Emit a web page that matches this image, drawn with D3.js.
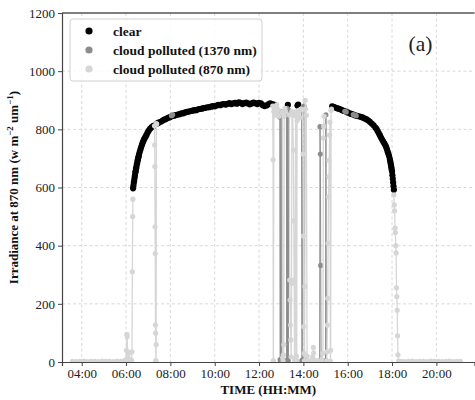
<!DOCTYPE html>
<html>
<head>
<meta charset="utf-8">
<script src="https://cdn.jsdelivr.net/npm/d3@7/dist/d3.min.js"></script>
<style>
  body { margin: 0; background: #fff; }
  svg { display: block; font-family: 'Liberation Serif', 'Times New Roman', serif; }
</style>
</head>
<body>
<svg id="chart" width="475" height="400"></svg>
<script>
// [time HH:MM(:SS), irradiance]
var clearPoints = [
  ['06:19', 597], ['06:20', 606], ['06:21', 616], ['06:22', 623], ['06:23', 633], ['06:24', 641],
  ['06:25', 651], ['06:26', 656], ['06:27', 665], ['06:28', 670], ['06:29', 679], ['06:30', 683],
  ['06:31', 691], ['06:32', 695], ['06:33', 702], ['06:34', 706], ['06:35', 713], ['06:37', 722],
  ['06:39', 731], ['06:41', 739], ['06:43', 747], ['06:45', 754], ['06:47', 760], ['06:49', 766],
  ['06:52', 773], ['06:55', 780], ['06:58', 788], ['07:01', 795], ['07:05', 802], ['07:09', 807],
  ['07:13', 811], ['07:16', 813], ['07:24', 820], ['07:27', 822], ['07:30', 824], ['07:35', 827],
  ['07:40', 831], ['07:45', 834], ['07:50', 837], ['07:55', 840], ['08:00', 842], ['08:05', 846],
  ['08:10', 847], ['08:15', 849], ['08:20', 851], ['08:25', 852], ['08:30', 855], ['08:35', 855],
  ['08:40', 858], ['08:45', 860], ['08:50', 861], ['08:55', 863], ['09:00', 864], ['09:05', 866],
  ['09:10', 866], ['09:15', 869], ['09:20', 870], ['09:25', 871], ['09:30', 873], ['09:35', 874],
  ['09:40', 876], ['09:45', 876], ['09:50', 878], ['09:55', 880], ['10:00', 879], ['10:05', 882],
  ['10:10', 884], ['10:15', 883], ['10:20', 886], ['10:25', 887], ['10:30', 885], ['10:35', 888],
  ['10:40', 890], ['10:45', 887], ['10:50', 889], ['10:55', 891], ['11:00', 888], ['11:05', 893],
  ['11:10', 891], ['11:15', 887], ['11:20', 890], ['11:25', 892], ['11:30', 889], ['11:35', 886],
  ['11:40', 889], ['11:45', 892], ['11:50', 890], ['11:55', 887], ['12:00', 891], ['12:05', 889],
  ['12:10', 883], ['12:15', 880], ['12:20', 882], ['12:25', 886], ['12:30', 889], ['12:35', 887],
  ['12:40', 885], ['12:43', 883],
  ['13:18', 884], ['13:44', 882], ['13:46', 885],
  ['15:18', 879], ['15:21', 877], ['15:25', 876], ['15:30', 873], ['15:35', 871], ['15:40', 869],
  ['15:45', 866], ['15:50', 863], ['15:55', 861], ['16:00', 858], ['16:05', 855], ['16:10', 853],
  ['16:15', 851], ['16:20', 848], ['16:25', 846], ['16:30', 845], ['16:35', 843], ['16:40', 841],
  ['16:45', 838], ['16:50', 835], ['16:55', 831], ['17:00', 826], ['17:05', 820], ['17:10', 814],
  ['17:15', 806], ['17:18', 801], ['17:21', 794], ['17:24', 787], ['17:27', 780], ['17:30', 772],
  ['17:33', 765], ['17:36', 758], ['17:39', 752], ['17:42', 745], ['17:44', 739], ['17:46', 732],
  ['17:48', 724], ['17:50', 716], ['17:52', 708], ['17:54', 698], ['17:55', 691], ['17:56', 684],
  ['17:57', 677], ['17:58', 670], ['17:59', 662], ['18:00', 655], ['18:01', 642], ['18:02', 630],
  ['18:03', 617], ['18:04', 604], ['18:05', 592]
];

// null = gap in the connecting line
var cloud1370Points = [
  ['08:03', 847], ['08:06', 850],
  null,
  ['12:56', 842], ['12:57', 8], ['12:58', 3], ['12:59', 855], ['13:00', 4], ['13:01', 860],
  null,
  ['13:14', 868], ['13:15', 6], ['13:16', 872], ['13:17', 3], ['13:18', 858], ['13:19', 5],
  ['13:20', 866], ['13:21', 280],
  null,
  ['13:55', 870], ['13:56', 6], ['13:57', 3], ['13:58', 875], ['14:02', 880], ['14:03', 10],
  null,
  ['14:44', 5], ['14:45', 809], ['14:46', 715], ['14:47', 332], ['14:48', 4],
  null,
  ['15:00', 5], ['15:01', 850], ['15:02', 3],
  null,
  ['15:52', 862], ['15:56', 860],
  null,
  ['16:15', 851], ['16:19', 849], ['16:23', 847]
];

var cloud870Points = [
  ['03:35', 2], ['03:45', 1], ['03:55', 2], ['04:05', 3], ['04:15', 1], ['04:25', 2], ['04:35', 2],
  ['04:45', 1], ['04:55', 3], ['05:05', 2], ['05:15', 2], ['05:25', 1], ['05:35', 3], ['05:45', 2],
  ['05:55', 4], ['06:00', 8], ['06:01', 40], ['06:02', 95], ['06:03', 88], ['06:04', 35],
  ['06:05', 15], ['06:07', 30], ['06:09', 10], ['06:11', 5], ['06:13', 4], ['06:15', 6],
  ['06:16', 35], ['06:17', 310], ['06:18', 500], ['06:18:30', 560],
  null,
  ['07:17', 812], ['07:17:30', 746], ['07:18', 672], ['07:18:30', 465], ['07:19', 373],
  ['07:19:30', 127], ['07:20', 99], ['07:20:30', 5], ['07:21', 3], ['07:21:30', 60],
  ['07:22', 820], ['07:23', 818],
  null,
  ['12:37', 880], ['12:38', 695], ['12:38:30', 4], ['12:39', 3], ['12:40', 862], ['12:42', 878],
  ['12:44', 848], ['12:46', 872], ['12:48', 884], ['12:50', 852], ['12:52', 868], ['12:54', 845],
  null,
  ['13:03', 858], ['13:04', 15], ['13:05', 4], ['13:06', 25], ['13:07', 60], ['13:08', 845],
  ['13:10', 872], ['13:12', 860],
  null,
  ['13:22', 850], ['13:23', 282], ['13:24', 213], ['13:25', 127], ['13:26', 76], ['13:27', 18],
  ['13:28', 270], ['13:29', 862], ['13:31', 848], ['13:33', 729], ['13:34', 485], ['13:35', 282],
  ['13:36', 10], ['13:37', 4], ['13:39', 860], ['13:40', 845], ['13:41', 20], ['13:42', 5],
  ['13:43', 830], ['13:48', 865], ['13:50', 840], ['13:53', 870],
  null,
  ['13:57', 868], ['13:59', 715], ['14:00', 433], ['14:01', 122], ['14:02', 30], ['14:03', 4],
  ['14:04', 260], ['14:05', 900], ['14:06', 870], ['14:08', 848], ['14:10', 20], ['14:12', 5],
  ['14:16', 3], ['14:21', 4], ['14:25', 18], ['14:27', 50], ['14:28', 31], ['14:30', 5],
  ['14:35', 3], ['14:40', 4],
  null,
  ['14:50', 8], ['14:53', 30], ['14:54', 770], ['14:55', 810], ['14:56', 845],
  null,
  ['15:03', 4], ['15:04', 35], ['15:05', 127], ['15:06', 219], ['15:07', 408], ['15:08', 568],
  ['15:09', 637], ['15:10', 694], ['15:11', 780], ['15:12', 825], ['15:13', 3], ['15:14', 40],
  ['15:15', 866], ['15:16', 870],
  null,
  ['18:05', 575], ['18:06', 540], ['18:07', 520], ['18:08', 460], ['18:09', 445], ['18:10', 400],
  ['18:11', 375], ['18:12', 255], ['18:13', 225], ['18:14', 178], ['18:15', 90], ['18:16', 25],
  ['18:18', 3], ['18:25', 2], ['18:35', 1], ['18:45', 2], ['18:55', 3], ['19:05', 1], ['19:15', 2],
  ['19:25', 2], ['19:35', 1], ['19:45', 3], ['19:55', 2], ['20:05', 2], ['20:15', 1], ['20:25', 2],
  ['20:35', 3], ['20:45', 1], ['20:55', 2], ['21:05', 2]
];

var xTickHours = [4, 6, 8, 10, 12, 14, 16, 18, 20];
var yTickValues = [0, 200, 400, 600, 800, 1000, 1200];
var legendLabels = ['clear', 'cloud polluted (1370 nm)', 'cloud polluted (870 nm)'];
var seriesColors = ['#000000', '#8c8c8c', '#d6d6d6'];

var serif = "'Liberation Serif', 'Times New Roman', serif";

function toHours(t) {
  var p = t.split(':').map(Number);
  return p[0] + p[1] / 60 + (p[2] || 0) / 3600;
}

function parseSeries(pts) {
  return pts.map(function (d) {
    return d === null ? null : {h: toHours(d[0]), v: d[1]};
  });
}

var plotLeft = 62, plotRight = 474.5, plotTop = 13, plotBottom = 362;

var x = d3.scaleLinear().domain([3.11, 21.72]).range([plotLeft, plotRight]);
var y = d3.scaleLinear().domain([0, 1200]).range([plotBottom, plotTop]);

var svg = d3.select('#chart');

svg.append('defs').append('clipPath')
  .attr('id', 'plot-clip')
  .append('rect')
  .attr('x', plotLeft)
  .attr('y', plotTop)
  .attr('width', plotRight - plotLeft)
  .attr('height', plotBottom - plotTop);

// dashed grid
var grid = svg.append('g').attr('class', 'grid')
  .attr('stroke', '#cfcfcf')
  .attr('stroke-width', 0.8)
  .attr('stroke-dasharray', '3,2.5');

grid.selectAll('line.gx')
  .data(xTickHours)
  .enter()
  .append('line')
  .attr('class', 'gx')
  .attr('x1', function (d) { return x(d); })
  .attr('x2', function (d) { return x(d); })
  .attr('y1', plotTop)
  .attr('y2', plotBottom);

grid.selectAll('line.gy')
  .data(yTickValues.slice(1, -1))
  .enter()
  .append('line')
  .attr('class', 'gy')
  .attr('x1', plotLeft)
  .attr('x2', plotRight)
  .attr('y1', function (d) { return y(d); })
  .attr('y2', function (d) { return y(d); });

// data
var dataLayer = svg.append('g').attr('clip-path', 'url(#plot-clip)');

var line = d3.line()
  .defined(function (d) { return d !== null; })
  .x(function (d) { return x(d.h); })
  .y(function (d) { return y(d.v); });

function drawSeries(pts, color, radius, lineWidth) {
  var data = parseSeries(pts);
  var g = dataLayer.append('g');
  if (lineWidth > 0) {
    g.append('path')
      .datum(data)
      .attr('d', line)
      .attr('fill', 'none')
      .attr('stroke', color)
      .attr('stroke-width', lineWidth);
  }
  g.selectAll('circle')
    .data(data.filter(function (d) { return d !== null; }))
    .enter()
    .append('circle')
    .attr('cx', function (d) { return x(d.h); })
    .attr('cy', function (d) { return y(d.v); })
    .attr('r', radius)
    .attr('fill', color);
}

drawSeries(clearPoints, seriesColors[0], 3.1, 0);
drawSeries(cloud1370Points, seriesColors[1], 2.6, 1);
drawSeries(cloud870Points, seriesColors[2], 2.6, 1.3);

// axes
var xAxis = svg.append('g')
  .attr('transform', 'translate(0,' + plotBottom + ')')
  .call(d3.axisBottom(x)
    .tickValues(xTickHours)
    .tickFormat(function (h) { return d3.format('02')(h) + ':00'; })
    .tickSize(4)
    .tickPadding(3));

var yAxis = svg.append('g')
  .attr('transform', 'translate(' + plotLeft + ',0)')
  .call(d3.axisLeft(y)
    .tickValues(yTickValues)
    .tickFormat(d3.format('d'))
    .tickSize(4)
    .tickPadding(3));

[xAxis, yAxis].forEach(function (ax) {
  ax.attr('font-family', serif).attr('font-size', 13);
  ax.select('.domain').attr('stroke', '#444').attr('stroke-width', 1.2);
  ax.selectAll('.tick line').attr('stroke', '#444');
  ax.selectAll('.tick text').attr('fill', '#222');
});

// top spine
svg.append('line')
  .attr('x1', plotLeft)
  .attr('x2', plotRight)
  .attr('y1', plotTop)
  .attr('y2', plotTop)
  .attr('stroke', '#555')
  .attr('stroke-width', 1.4);

// axis titles
svg.append('text')
  .attr('x', (plotLeft + plotRight) / 2)
  .attr('y', 394)
  .attr('text-anchor', 'middle')
  .attr('font-weight', 'bold')
  .attr('font-size', 13)
  .attr('fill', '#111')
  .text('TIME (HH:MM)');

var yTitle = svg.append('text')
  .attr('transform', 'translate(18,' + ((plotTop + plotBottom) / 2) + ') rotate(-90)')
  .attr('text-anchor', 'middle')
  .attr('font-weight', 'bold')
  .attr('font-size', 13)
  .attr('fill', '#111');
yTitle.append('tspan').text('Irradiance at 870 nm (w m');
yTitle.append('tspan').attr('dy', -5).attr('font-size', 9).text('\u22122');
yTitle.append('tspan').attr('dy', 5).text(' um');
yTitle.append('tspan').attr('dy', -5).attr('font-size', 9).text('\u22121');
yTitle.append('tspan').attr('dy', 5).text(')');

// panel label
svg.append('text')
  .attr('x', 420.5)
  .attr('y', 51)
  .attr('text-anchor', 'middle')
  .attr('font-size', 21.5)
  .attr('fill', '#222')
  .text('(a)');

// legend
var legend = svg.append('g').attr('class', 'legend');
legend.append('rect')
  .attr('x', 70)
  .attr('y', 19)
  .attr('width', 192)
  .attr('height', 62)
  .attr('rx', 3)
  .attr('fill', '#fff')
  .attr('fill-opacity', 0.85)
  .attr('stroke', '#d0d0d0');

var legendItem = legend.selectAll('g.item')
  .data(legendLabels)
  .enter()
  .append('g')
  .attr('class', 'item')
  .attr('transform', function (d, i) { return 'translate(89,' + (31 + i * 19) + ')'; });

legendItem.append('circle')
  .attr('r', 3.6)
  .attr('fill', function (d, i) { return seriesColors[i]; });

legendItem.append('text')
  .attr('x', 24)
  .attr('y', 4.5)
  .attr('font-weight', 'bold')
  .attr('font-size', 13.5)
  .attr('fill', '#111')
  .text(function (d) { return d; });
</script>
</body>
</html>
